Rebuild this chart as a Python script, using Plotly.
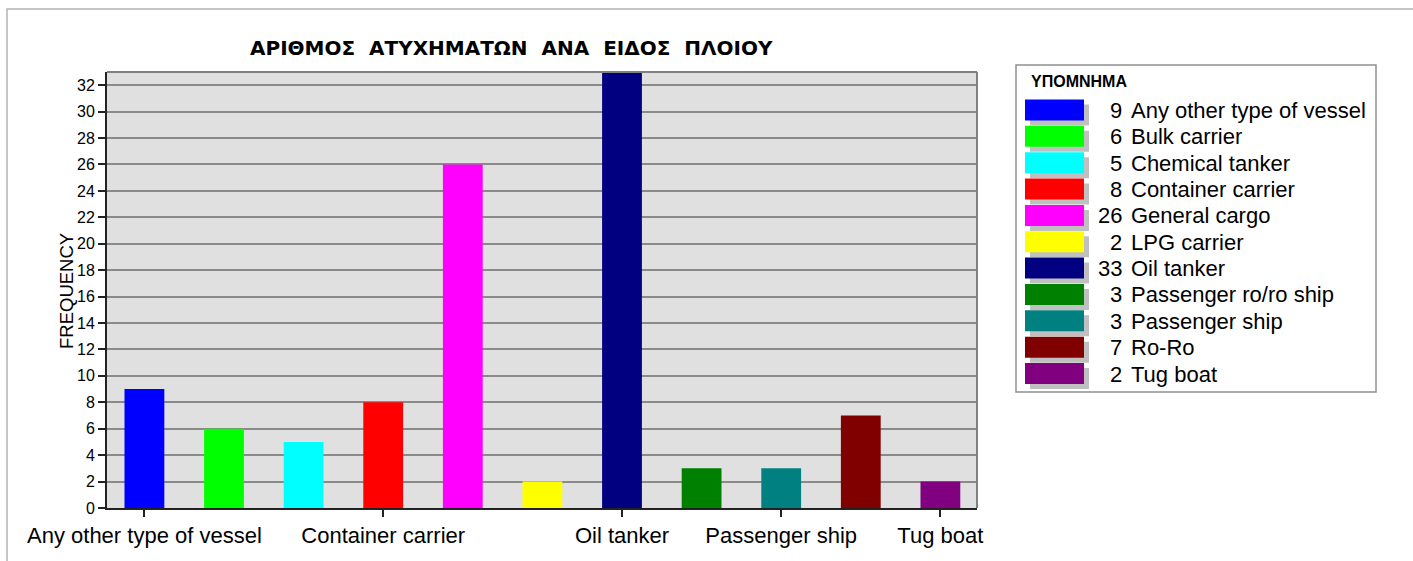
import plotly.graph_objects as go

categories = ["Any other type of vessel", "Bulk carrier", "Chemical tanker",
              "Container carrier", "General cargo", "LPG carrier", "Oil tanker",
              "Passenger ro/ro ship", "Passenger ship", "Ro-Ro", "Tug boat"]
counts = [9, 6, 5, 8, 26, 2, 33, 3, 3, 7, 2]
colors = ["#0000FF", "#00FF00", "#00FFFF", "#FF0000", "#FF00FF", "#FFFF00",
          "#000080", "#008000", "#008080", "#800000", "#800080"]
shown_ticks = ["Any other type of vessel", "Container carrier", "Oil tanker",
               "Passenger ship", "Tug boat"]
y_ticks = list(range(0, 33, 2))

W, H = 1413, 561
L, R, T, B = 107, 977, 72, 508
FONT = "Liberation Sans, Arial, sans-serif"
TFONT = "DejaVu Sans, Liberation Sans, sans-serif"


def px(x):
    return (x - L) / (R - L)


def py(y):
    return (B - y) / (B - T)


fig = go.Figure()
fig.add_trace(go.Bar(x=categories, y=counts, marker=dict(color=colors, line=dict(width=0)),
                     showlegend=False))

shapes = []
annotations = []

# outer border
shapes.append(dict(type="rect", xref="paper", yref="paper", x0=px(7), x1=px(1440),
                   y0=py(9), y1=py(600), line=dict(color="#b4b4b4", width=1.5),
                   layer="below"))
# top & right plot frame
shapes.append(dict(type="line", xref="paper", yref="paper", x0=0, x1=1, y0=1, y1=1,
                   line=dict(color="#808080", width=2), layer="above"))
shapes.append(dict(type="line", xref="paper", yref="paper", x0=1, x1=1, y0=0, y1=1,
                   line=dict(color="#808080", width=2), layer="above"))

# title
annotations.append(dict(text="<b>ΑΡΙΘΜΟΣ  ΑΤΥΧΗΜΑΤΩΝ  ΑΝΑ  ΕΙΔΟΣ  ΠΛΟΙΟΥ</b>", xref="paper",
                        yref="paper", x=px(511), y=py(48), showarrow=False,
                        xanchor="center", yanchor="middle",
                        font=dict(family=TFONT, size=20, color="black")))
# y title
annotations.append(dict(text="FREQUENCY", xref="paper", yref="paper", x=px(66), y=py(291),
                        showarrow=False, textangle=-90, xanchor="center", yanchor="middle",
                        font=dict(family=FONT, size=18.5, color="black")))

# legend box
lx0, ly0, lx1, ly1 = 1016, 65, 1376, 392
shapes.append(dict(type="rect", xref="paper", yref="paper", x0=px(lx0), x1=px(lx1),
                   y0=py(ly0), y1=py(ly1), line=dict(color="#909090", width=1.5),
                   fillcolor="white", layer="above"))
annotations.append(dict(text="<b>ΥΠΟΜΝΗΜΑ</b>", xref="paper", yref="paper", x=px(1029),
                        y=py(81), showarrow=False, xanchor="left", yanchor="middle",
                        font=dict(family=FONT, size=16, color="black")))
row_h = 26.35
for i, (cat, n, c) in enumerate(zip(categories, counts, colors)):
    top = 99.5 + i * row_h
    # shadow
    shapes.append(dict(type="rect", xref="paper", yref="paper", x0=px(1030), x1=px(1089),
                       y0=py(top + 5), y1=py(top + 26), line=dict(width=0),
                       fillcolor="#c0c0c0", layer="above"))
    shapes.append(dict(type="rect", xref="paper", yref="paper", x0=px(1025), x1=px(1084),
                       y0=py(top), y1=py(top + 21), line=dict(width=0),
                       fillcolor=c, layer="above"))
    cy = top + 11
    annotations.append(dict(text=str(n), xref="paper", yref="paper", x=px(1124), y=py(cy),
                            showarrow=False, xanchor="right", yanchor="middle",
                            font=dict(family=FONT, size=22, color="black")))
    annotations.append(dict(text=cat, xref="paper", yref="paper", x=px(1129), y=py(cy),
                            showarrow=False, xanchor="left", yanchor="middle",
                            font=dict(family=FONT, size=22, color="black")))

fig.update_layout(
    width=W, height=H,
    margin=dict(l=L, r=W - R, t=T, b=H - B, pad=0),
    paper_bgcolor="white",
    plot_bgcolor="#E0E0E0",
    bargap=0.5,
    shapes=shapes,
    annotations=annotations,
    font=dict(family=FONT, color="black"),
    xaxis=dict(
        type="category", categoryorder="array", categoryarray=categories,
        tickmode="array", tickvals=shown_ticks, ticktext=shown_ticks,
        ticks="outside", ticklen=7, tickwidth=2, tickcolor="#222",
        showline=True, linecolor="#222", linewidth=2, showgrid=False,
        tickfont=dict(family=FONT, size=22, color="black"),
        range=[-0.47, 10.46], fixedrange=True,
    ),
    yaxis=dict(
        range=[0, 33], tickmode="array", tickvals=y_ticks,
        ticks="outside", ticklen=7, tickwidth=2, tickcolor="#222",
        showline=True, linecolor="#222", linewidth=2,
        showgrid=True, gridcolor="#8a8a8a", gridwidth=1.5, zeroline=False,
        tickfont=dict(family=FONT, size=16, color="black"),
        fixedrange=True,
    ),
)

fig.write_html("out.html")
